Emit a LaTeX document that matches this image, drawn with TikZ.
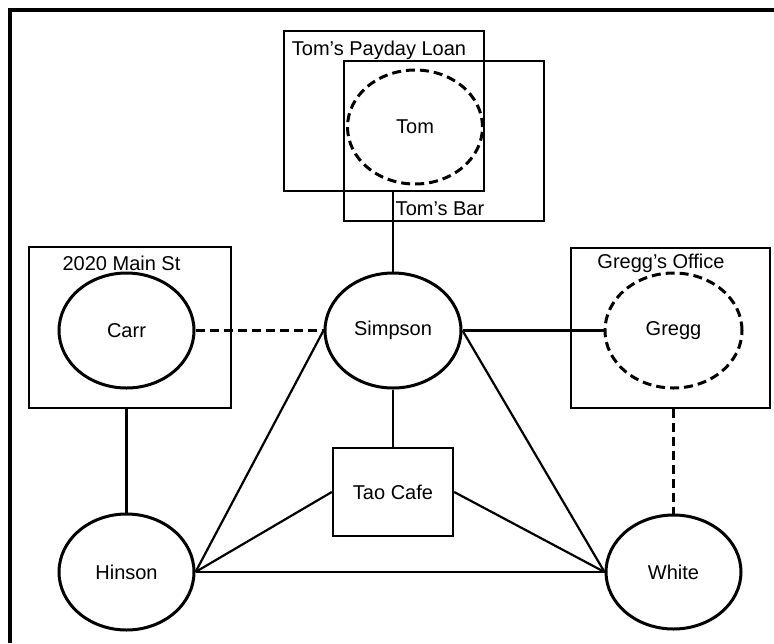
\documentclass[tikz,border=0pt]{standalone}
\usepackage{fontspec}
\setmainfont{Liberation Sans}
\usetikzlibrary{shapes.geometric}

\begin{document}
\begin{tikzpicture}[x=1pt,y=-1pt,
    txt/.style={font=\fontsize{20}{23}\selectfont},
    person/.style={txt,draw,ellipse,line width=3pt,minimum width=135pt,minimum height=115pt},
    hidden/.style={person,dash pattern=on 9pt off 5pt},
    place/.style={draw,rectangle,line width=2.4pt,inner sep=0pt},
    link/.style={line width=2.2pt},
    dashlink/.style={link,dash pattern=on 9pt off 5pt}]
      \useasboundingbox (0,0) rectangle (774,643);
      % frame, only top and left edges show
      \draw [line width=3.5pt] (10,643) -- (10,10) -- (774,10);
      % places
      \node [place,minimum width=200pt,minimum height=160pt] (payday) at (384,111) {};
      \node [place,minimum width=200pt,minimum height=160pt] (bar) at (444,141) {};
      \node [place,minimum width=202pt,minimum height=161pt] (mainst) at (130,327.5) {};
      \node [place,minimum width=199pt,minimum height=160pt] (office) at (670.5,328) {};
      \node [place,txt,minimum width=120pt,minimum height=88pt] (tao) at (393,492) {Tao Cafe};
      \node [txt,anchor=base] (paydaylabel) at (379,55) {Tom's Payday Loan};
      \node [txt,anchor=base] (barlabel) at (440,215) {Tom's Bar};
      \node [txt,anchor=base] (mainstlabel) at (121.5,270) {2020 Main St};
      \node [txt,anchor=base] (officelabel) at (661,268) {Gregg's Office};
      % people
      \node [hidden,minimum height=114pt] (tom) at (415,127) {Tom};
      \node [person] (carr) at (126.5,330.5) {Carr};
      \node [person,minimum width=136pt] (simpson) at (393,330.5) {Simpson};
      \node [hidden,minimum width=137pt] (gregg) at (673.5,330.5) {Gregg};
      \node [person,minimum height=116pt] (hinson) at (126.5,572) {Hinson};
      \node [person,minimum height=114pt] (white) at (673.5,572) {White};
      % ties
      \draw [link] (simpson.north) -- (simpson.north |- payday.south);
      \draw [dashlink] (carr.east) -- (simpson.west);
      \draw [link] (simpson.east) -- (gregg.west);
      \draw [link] (simpson.south) -- (tao.north);
      \draw [link] (mainst.south -| carr.south) -- (hinson.north);
      \draw [dashlink] (office.south -| white.north) -- (white.north);
      \draw [link] (hinson.east) -- (simpson.west);
      \draw [link] (hinson.east) -- (tao.west);
      \draw [link] (hinson.east) -- (white.west);
      \draw [link] (simpson.east) -- (white.west);
      \draw [link] (tao.east) -- (white.west);
\end{tikzpicture}
\end{document}
